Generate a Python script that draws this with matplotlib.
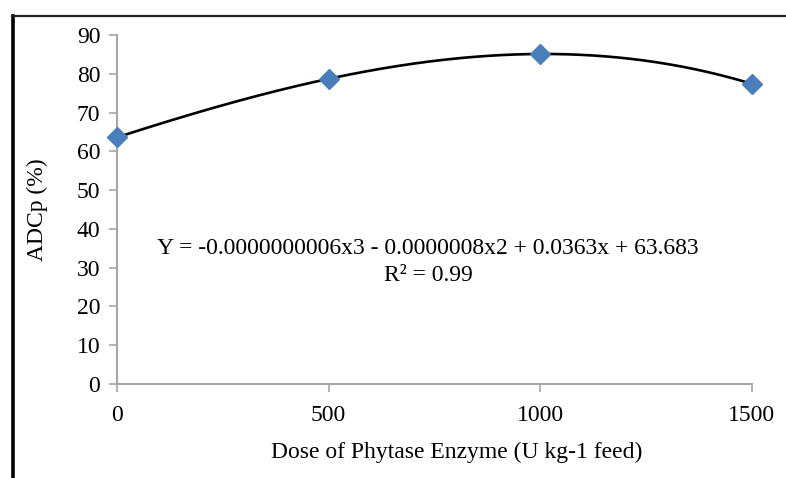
import numpy as np
import matplotlib
matplotlib.use("Agg")
import matplotlib.pyplot as plt
from matplotlib.lines import Line2D

plt.rcParams['font.family'] = ['Liberation Serif', 'DejaVu Serif']

# data
dose = [0, 500, 1000, 1500]
adcp = [63.6, 78.7, 85.1, 77.4]
xticks = [0, 500, 1000, 1500]
yticks = [0, 10, 20, 30, 40, 50, 60, 70, 80, 90]
equation = "Y = -0.0000000006x3 - 0.0000008x2 + 0.0363x + 63.683"
r2_text = "R\u00b2 = 0.99"

grey = "#a6a6a6"
fs = 17

fig = plt.figure(figsize=(7.86, 4.78), dpi=100)
ax = fig.add_axes([0.1489, 0.1967, 0.8078, 0.7301])

# polynomial trend line (order 3) fitted to the points
coef = np.polyfit(dose, adcp, 3)
xs = np.linspace(min(dose), max(dose), 200)
ax.plot(xs, np.polyval(coef, xs), color="black", lw=1.9, zorder=2)
ax.plot(dose, adcp, linestyle="none", marker="D", markersize=10,
        color="#4a7ebb", zorder=3, clip_on=False)

ax.set_xlim(0, 1500)
ax.set_ylim(0, 90)
ax.set_xticks(xticks)
ax.set_yticks(yticks)
ax.tick_params(axis="both", direction="out", length=6, width=1.2,
               color=grey, labelsize=fs, pad=6)
ax.tick_params(axis="x", pad=9)
for s in ["top", "right"]:
    ax.spines[s].set_visible(False)
for s in ["left", "bottom"]:
    ax.spines[s].set_color(grey)
    ax.spines[s].set_linewidth(1.5)

ax.set_xlabel("Dose of Phytase Enzyme (U kg-1 feed)", fontsize=fs, labelpad=10)
ax.xaxis.set_label_coords(0.535, -0.165)
ax.set_ylabel("ADCp (%)", fontsize=fs, labelpad=21)

ax.text(0.49, 0.387, equation, transform=ax.transAxes, ha="center",
        va="center", fontsize=fs)
ax.text(0.49, 0.312, r2_text, transform=ax.transAxes, ha="center",
        va="center", fontsize=fs)

# partial outer frame (left and top)
fig.add_artist(Line2D([13 / 786, 13 / 786], [0, 1 - 16 / 478],
                      color="black", lw=2.6, transform=fig.transFigure))
fig.add_artist(Line2D([12 / 786, 1], [1 - 16 / 478, 1 - 16 / 478],
                      color="#222222", lw=1.6, transform=fig.transFigure))

fig.savefig("out.png", dpi=100)
